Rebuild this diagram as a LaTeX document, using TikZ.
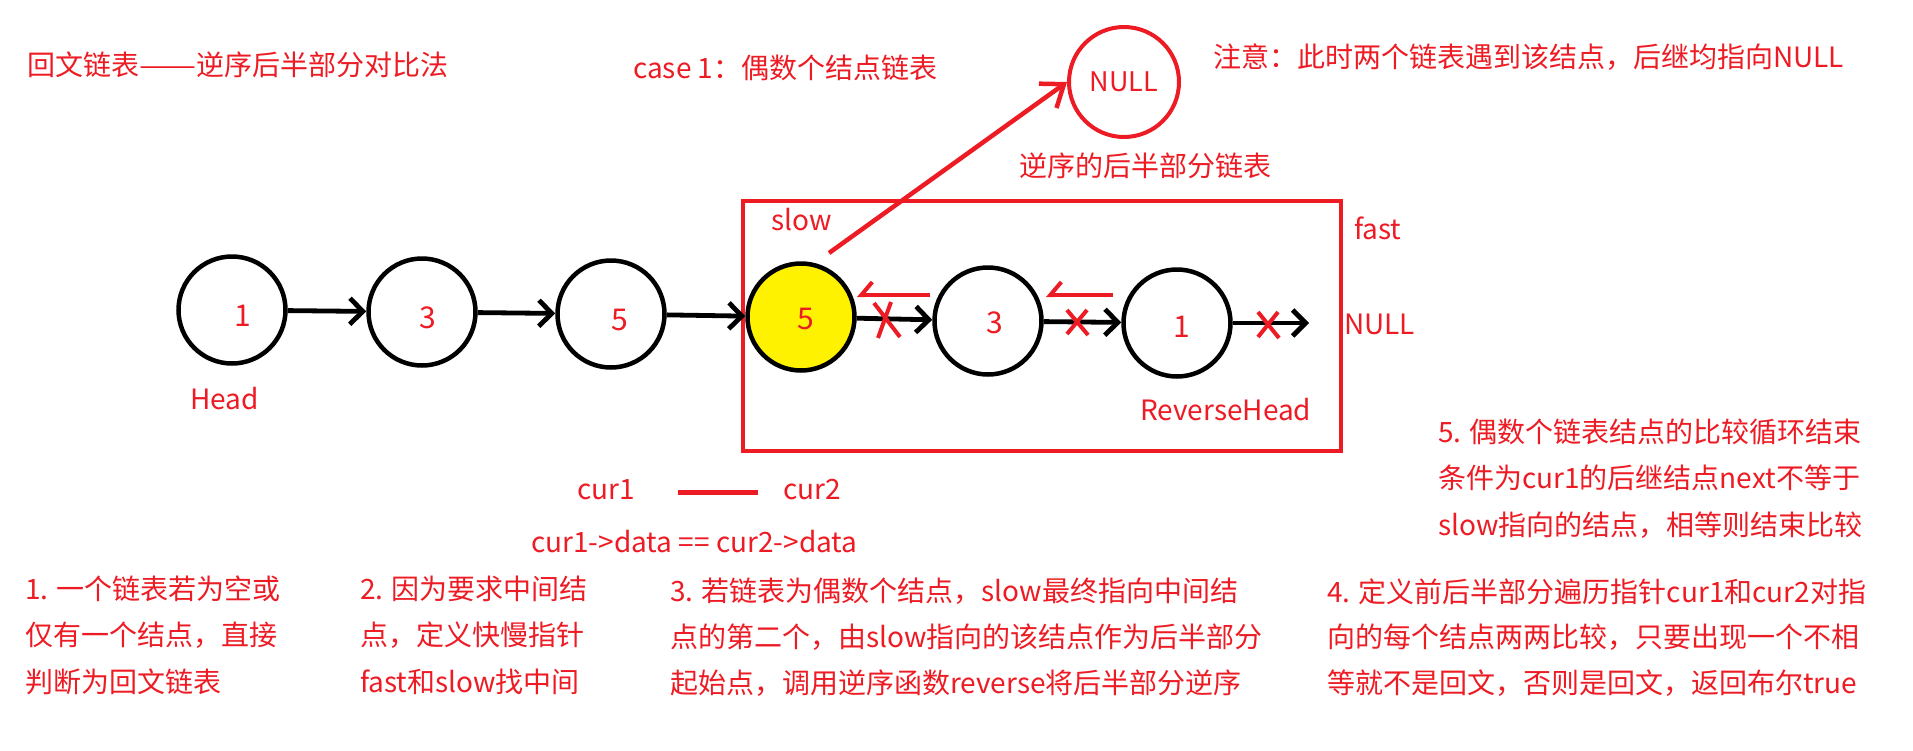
\documentclass[tikz,border=0pt]{standalone}
\usepackage{fontspec}
\setmainfont{Noto Sans CJK SC}
\usetikzlibrary{arrows.meta,calc}
\definecolor{pred}{HTML}{ED1C24}
\definecolor{pyel}{HTML}{FFF200}
\begin{document}
\begin{tikzpicture}[x=1pt,y=-1pt,
  circ/.style={circle, draw=black, line width=4.5pt, minimum size=107pt, inner sep=0pt},
  num/.style={text=pred, font=\fontsize{30}{32}\selectfont, inner sep=0pt},
  lbl/.style={text=pred, font=\fontsize{28}{34}\selectfont, anchor=west, inner sep=0pt},
  blk/.style={draw=black, line width=4.8pt, -{Straight Barb[length=13pt,width=26pt]}},
  redarr/.style={draw=pred, line width=4.5pt, -{Straight Barb[length=20pt,width=30pt]}},
  harp/.style={draw=pred, line width=4pt, -{Straight Barb[harpoon,swap,length=11pt,width=26pt]}},
  xmark/.style={draw=pred, line width=4pt}
]
\fill[white] (0,0) rectangle (1913,750);
\useasboundingbox (0,0) rectangle (1913,750);

% frame
\node[draw=pred, line width=4pt, minimum width=598pt, minimum height=250pt, inner sep=0pt] (frame) at (1042,326) {};

% list nodes
\node[circ] (n1) at (232,310) {};
\node[circ] (n2) at (422,312) {};
\node[circ] (n3) at (611,314) {};
\node[circ, fill=pyel] (m1) at (801,317) {};
\node[circ] (m2) at (988,321) {};
\node[circ] (m3) at (1177,323) {};

\node[num] (t1) at (243,316) {1};
\node[num] (t2) at (428,318) {3};
\node[num] (t3) at (620,320) {5};
\node[num] (u1) at (806,319) {5};
\node[num] (u2) at (995,323) {3};
\node[num] (u3) at (1182,327) {1};

% black arrows
\draw[blk] (n1) -- (n2);
\draw[blk] (n2) -- (n3);
\draw[blk] (n3) -- (m1);
\draw[blk] (m1) -- (m2);
\draw[blk] (m2) -- (m3);
\coordinate (endnull) at (1309,323);
\draw[blk] (m3) -- (endnull);

% red reverse harpoons
\coordinate (h1s) at (930,295);
\coordinate (h1e) at (857,295);
\coordinate (h2s) at (1113,295);
\coordinate (h2e) at (1046,295);
\draw[harp] (h1s) -- (h1e);
\draw[harp] (h2s) -- (h2e);

% red crosses
\draw[xmark] (874,303) -- (900,337) (891,302) -- (878,338);
\draw[xmark] (1067,310) -- (1088,335) (1087,310) -- (1067,334);
\draw[xmark] (1258,312) -- (1279,338) (1278,312) -- (1258,337);

% NULL circle and slow arrow
\node[circle, draw=pred, line width=4pt, minimum size=110pt, inner sep=0pt,
      text=pred, font=\fontsize{27}{30}\selectfont] (nullc) at (1124,82) {NULL};
\coordinate (sl) at (829,253);
\draw[redarr] (sl) -- (nullc.west);

% labels
\node[lbl] (title) at (27,65) {回文链表\resizebox{57pt}{\height}{——}逆序后半部分对比法};
\node[lbl] (case) at (633,68) {case 1：偶数个结点链表};
\node[lbl] (note) at (1213,57) {注意：此时两个链表遇到该结点，后继均指向NULL};
\node[lbl] (rev) at (1019,166) {逆序的后半部分链表};
\node[lbl] (slow) at (771,220) {slow};
\node[lbl] (fast) at (1354,228) {fast};
\node[lbl] (nullr) at (1344,324) {NULL};
\node[lbl] (head) at (190,399) {Head};
\node[lbl] (rhead) at (1140,410) {ReverseHead};
\node[lbl] (cur1) at (577,490) {cur1};
\node[lbl] (cur2) at (783,490) {cur2};
\coordinate (cl1) at (678,492);
\coordinate (cl2) at (758,492);
\draw[pred, line width=5pt] (cl1) -- (cl2);
\node[lbl] (cmp) at (531,542) {cur1->data == cur2->data};

% paragraphs
\node[lbl] (p1a) at (25,589) {1. 一个链表若为空或};
\node[lbl] (p1b) at (25,635) {仅有一个结点，直接};
\node[lbl] (p1c) at (25,682) {判断为回文链表};
\node[lbl] (p2a) at (360,589) {2. 因为要求中间结};
\node[lbl] (p2b) at (360,635) {点，定义快慢指针};
\node[lbl] (p2c) at (360,682) {fast和slow找中间};
\node[lbl] (p3a) at (670,591) {3. 若链表为偶数个结点，slow最终指向中间结};
\node[lbl] (p3b) at (670,637) {点的第二个，由slow指向的该结点作为后半部分};
\node[lbl] (p3c) at (670,683) {起始点，调用逆序函数reverse将后半部分逆序};
\node[lbl] (p4a) at (1327,592) {4. 定义前后半部分遍历指针cur1和cur2对指};
\node[lbl] (p4b) at (1327,637) {向的每个结点两两比较，只要出现一个不相};
\node[lbl] (p4c) at (1327,683) {等就不是回文，否则是回文，返回布尔true};
\node[lbl] (p5a) at (1438,432) {5. 偶数个链表结点的比较循环结束};
\node[lbl] (p5b) at (1438,478) {条件为cur1的后继结点next不等于};
\node[lbl] (p5c) at (1438,525) {slow指向的结点，相等则结束比较};
\end{tikzpicture}
\end{document}
